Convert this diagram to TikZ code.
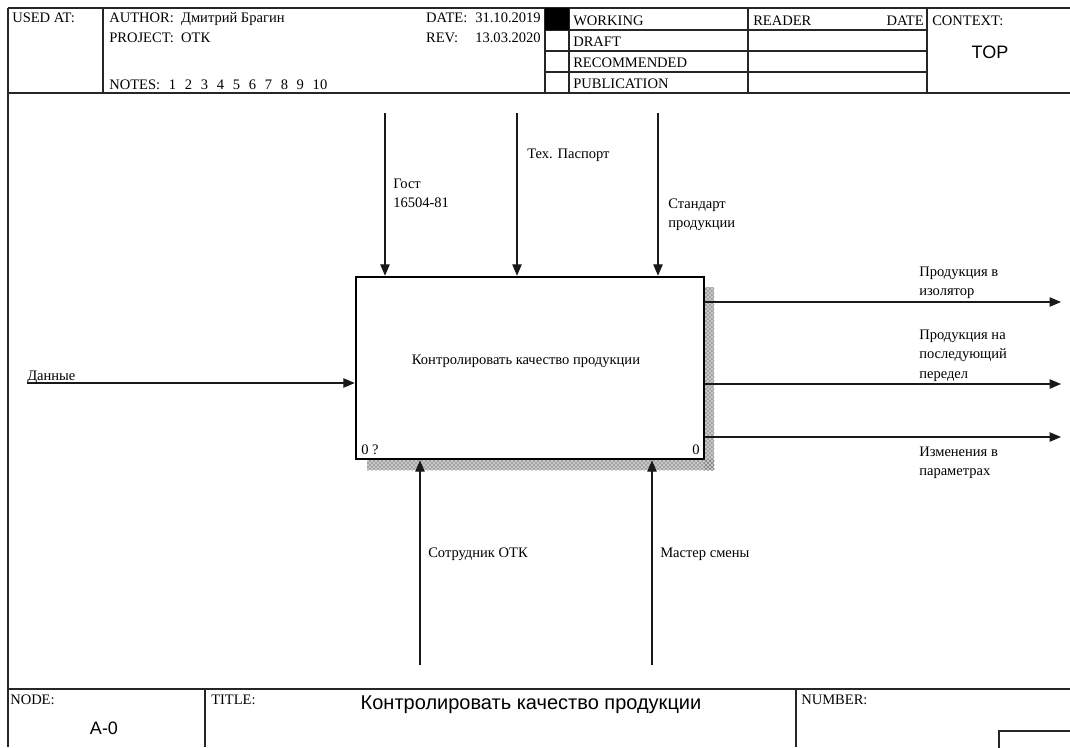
\documentclass[tikz,border=0pt]{standalone}
\usepackage{fontspec}
\setmainfont{Liberation Serif}
\setsansfont{Liberation Sans}
\usetikzlibrary{arrows.meta,patterns}
\begin{document}
\begin{tikzpicture}[x=0.75pt,y=-0.75pt,
  frame/.style={line width=0.8pt, black!85},
  txt/.style={font=\fontsize{10.9}{15}\selectfont, inner sep=0pt, anchor=base west},
  mtxt/.style={font=\fontsize{10.9}{14.6}\selectfont, inner sep=0pt, anchor=north west, align=left},
  big/.style={font=\sffamily\fontsize{13.5}{16}\selectfont, inner sep=0pt},
  arr/.style={line width=0.8pt, black!90, -{Triangle[length=8.5pt,width=7pt]}},
  shadowfill/.style={fill=black!22, draw=none},
  shadowhatch/.style={pattern=crosshatch dots, pattern color=black!80, draw=none}
]
\useasboundingbox (0,0) rectangle (1070,747);
\fill[white] (0,0) rectangle (1070,747);

% ---------- header frame ----------
\draw[frame] (8,8) -- (1070,8);
\draw[frame] (8,93) -- (1070,93);
\draw[frame] (8,8) -- (8,747);
\draw[frame] (103,8) -- (103,93);
\draw[frame] (545,8) -- (545,93);
\draw[frame] (569,8) -- (569,93);
\draw[frame] (748,8) -- (748,93);
\draw[frame] (927,8) -- (927,93);
\draw[frame] (545,30) -- (927,30);
\draw[frame] (545,51) -- (927,51);
\draw[frame] (545,72) -- (927,72);
\fill[black] (545,8) rectangle (569,30);

\node[txt] (usedat) at (12,22) {USED AT:};
\node[txt] (author) at (109,22) {AUTHOR:\ \ Дмитрий Брагин};
\node[txt] (project) at (109,42) {PROJECT:\ \ ОТК};
\node[txt] (notes) at (109,89) {NOTES:\hspace{0.6em}1\hspace{0.6em}2\hspace{0.6em}3\hspace{0.6em}4\hspace{0.6em}5\hspace{0.6em}6\hspace{0.6em}7\hspace{0.6em}8\hspace{0.6em}9\hspace{0.6em}10};
\node[txt, anchor=base east] (dates) at (541,22) {\begin{tabular}[t]{@{}l@{\hspace{6pt}}r@{}}DATE: & 31.10.2019\\ REV: & 13.03.2020\end{tabular}};
\node[txt] (working) at (573,25) {WORKING};
\node[txt] (draft) at (573,46.5) {DRAFT};
\node[txt] (recom) at (573,67.5) {RECOMMENDED};
\node[txt] (publ) at (573,88.5) {PUBLICATION};
\node[txt] (reader) at (753,25) {READER};
\node[txt, anchor=base east] (rdate) at (924,25) {DATE};
\node[txt] (context) at (932,25) {CONTEXT:};
\node[big] (top) at (990,52) {TOP};

% ---------- footer frame ----------
\draw[frame] (8,689) -- (1070,689);
\draw[frame] (205,689) -- (205,747);
\draw[frame] (796,689) -- (796,747);
\draw[frame] (999,752) -- (999,731) -- (1075,731);
\node[txt] (nodelbl) at (10,704) {NODE:};
\node[txt] (titlelbl) at (211,704) {TITLE:};
\node[txt] (numlbl) at (801,704) {NUMBER:};
\node[big] (nodeno) at (104,728) {A-0};
\node[big, font=\sffamily\fontsize{15}{18}\selectfont] (title) at (531,705) {Контролировать качество продукции};

% ---------- activity box ----------
\fill[shadowfill] (367,459) rectangle (714,470);
\fill[shadowfill] (704,287) rectangle (714,470);
\fill[shadowhatch] (367,459) rectangle (714,470);
\fill[shadowhatch] (704,287) rectangle (714,470);
\node[draw, fill=white, line width=1.9pt, minimum width=261pt, minimum height=136.5pt, inner sep=0pt] (fn) at (530,368) {};
\node[txt, anchor=base] (fntext) at (526,364) {Контролировать качество продукции};
\node[txt] (fnid) at (361,454) {0 ?};
\node[txt, anchor=base east] (fnno) at (700,454) {0};

% ---------- controls ----------
\coordinate (c1) at (385,113);
\coordinate (c2) at (517,113);
\coordinate (c3) at (658,113);
\draw[arr] (c1) -- (c1 |- fn.north);
\draw[arr] (c2) -- (c2 |- fn.north);
\draw[arr] (c3) -- (c3 |- fn.north);
\node[mtxt] (lc1) at (393,178.5) {Гост\\16504-81};
\node[txt] (lc2) at (527,158) {Тех. Паспорт};
\node[mtxt] (lc3) at (668,198.5) {Стандарт\\продукции};

% ---------- input ----------
\coordinate (i1) at (27,383);
\draw[arr] (i1) -- (i1 -| fn.west);
\node[txt] (li1) at (27,380) {Данные};

% ---------- outputs ----------
\coordinate (o1) at (1061,302);
\coordinate (o2) at (1061,384);
\coordinate (o3) at (1061,437);
\draw[arr] (o1 -| fn.east) -- (o1);
\draw[arr] (o2 -| fn.east) -- (o2);
\draw[arr] (o3 -| fn.east) -- (o3);
\node[mtxt] (lo1) at (919,266.5) {Продукция в\\изолятор};
\node[mtxt] (lo2) at (919,329.5) {Продукция на\\последующий\\передел};
\node[mtxt] (lo3) at (919,446.5) {Изменения в\\параметрах};

% ---------- mechanisms ----------
\coordinate (m1) at (420,665);
\coordinate (m2) at (652,665);
\draw[arr] (m1) -- (m1 |- fn.south);
\draw[arr] (m2) -- (m2 |- fn.south);
\node[txt] (lm1) at (428,557) {Сотрудник ОТК};
\node[txt] (lm2) at (660,557) {Мастер смены};
\end{tikzpicture}
\end{document}
